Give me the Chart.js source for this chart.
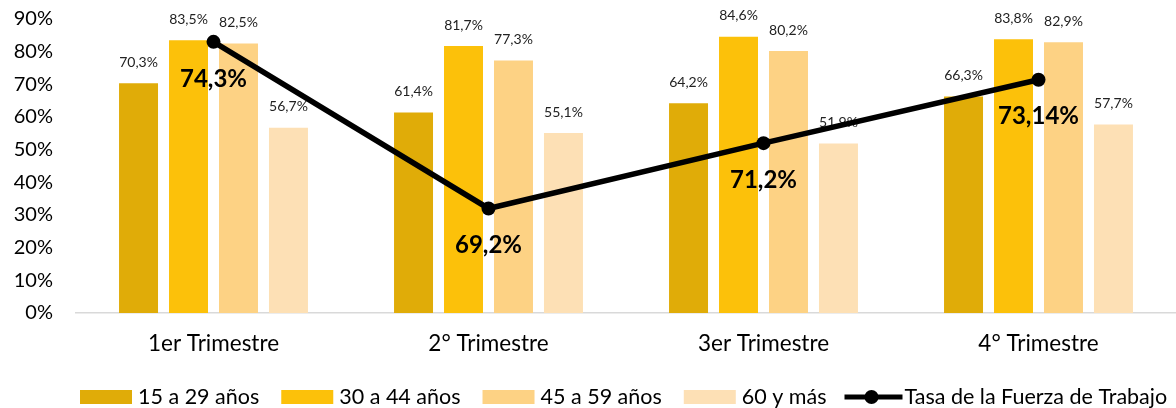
<!DOCTYPE html>
<html>
<head>
<meta charset="utf-8">
<script src="https://cdn.jsdelivr.net/npm/chart.js@4/dist/chart.umd.min.js"></script>
<style>
  html,body{margin:0;padding:0;background:#fff;}
  #wrap{width:1176px;height:408px;position:relative;}
</style>
</head>
<body>
<div id="wrap"><canvas id="c"></canvas></div>
<script>
const categories = ['1er Trimestre', '2° Trimestre', '3er Trimestre', '4° Trimestre'];
const g15a29 = [70.3, 61.4, 64.2, 66.3];
const g30a44 = [83.5, 81.7, 84.6, 83.8];
const g45a59 = [82.5, 77.3, 80.2, 82.9];
const g60mas = [56.7, 55.1, 51.9, 57.7];
const tasaFuerza = [74.3, 69.2, 71.2, 73.14];
const yTicks = [0, 10, 20, 30, 40, 50, 60, 70, 80, 90];

const FONT = 'Lato, "Open Sans", sans-serif';
const fmt = v => String(v).replace('.', ',') + '%';

// bar value labels, drawn per dataset so the line goes over them
const barLabels = {
  id: 'barLabels',
  afterDatasetDraw(chart, args){
    const ds = chart.data.datasets[args.index];
    if(ds.type === 'line') return;
    const ctx = chart.ctx;
    ctx.save();
    ctx.font = '14px ' + FONT;
    ctx.fillStyle = '#222';
    ctx.textAlign = 'center';
    ctx.textBaseline = 'middle';
    args.meta.data.forEach((bar, i) => ctx.fillText(fmt(ds.data[i]), bar.x, bar.y - 21));
    ctx.restore();
  },
  afterDatasetsDraw(chart){
    const ctx = chart.ctx;
    chart.data.datasets.forEach((ds, di) => {
      if(ds.type !== 'line') return;
      const meta = chart.getDatasetMeta(di);
      ctx.save();
      ctx.font = 'bold 24px ' + FONT;
      ctx.fillStyle = '#000';
      ctx.textAlign = 'center';
      ctx.textBaseline = 'middle';
      meta.data.forEach((pt, i) => ctx.fillText(fmt(ds.data[i]), pt.x, pt.y + 37));
      ctx.restore();
    });
  }
};

// legend drawn by hand along the bottom
const bottomLegend = {
  id: 'bottomLegend',
  afterDraw(chart){
    const ctx = chart.ctx;
    const y = 397;
    let x = 80;
    ctx.save();
    ctx.font = '21.5px ' + FONT;
    ctx.textBaseline = 'middle';
    ctx.textAlign = 'left';
    chart.data.datasets.forEach(ds => {
      if(ds.type === 'line'){
        x -= 4;
        ctx.strokeStyle = ds.borderColor;
        ctx.lineWidth = 5;
        ctx.beginPath(); ctx.moveTo(x, y); ctx.lineTo(x + 58, y); ctx.stroke();
        ctx.fillStyle = ds.borderColor;
        ctx.beginPath(); ctx.arc(x + 27, y, 7, 0, Math.PI * 2); ctx.fill();
        x += 60;
      } else {
        ctx.fillStyle = ds.backgroundColor;
        ctx.fillRect(x, y - 7, 52, 14);
        x += 58;
      }
      ctx.fillStyle = '#000';
      ctx.fillText(ds.label, x, y);
      x += ctx.measureText(ds.label).width + 22;
    });
    ctx.restore();
  }
};

new Chart(document.getElementById('c'), {
  data: {
    labels: categories,
    datasets: [
      {type:'bar', label:'15 a 29 años', data:g15a29, backgroundColor:'#E0AC08', order:1},
      {type:'bar', label:'30 a 44 años', data:g30a44, backgroundColor:'#FCC10A', order:1},
      {type:'bar', label:'45 a 59 años', data:g45a59, backgroundColor:'#FDD284', order:1},
      {type:'bar', label:'60 y más', data:g60mas, backgroundColor:'#FDE0B5', order:1},
      {type:'line', label:'Tasa de la Fuerza de Trabajo', data:tasaFuerza, yAxisID:'y1', order:0,
       borderColor:'#000', backgroundColor:'#000', borderWidth:5.5, pointRadius:7, pointBackgroundColor:'#000', pointBorderWidth:0, tension:0}
    ]
  },
  options: {
    responsive: true,
    maintainAspectRatio: false,
    animation: false,
    datasets: { bar: { categoryPercentage: 0.727, barPercentage: 0.78 } },
    layout: { autoPadding: false, padding: { top: 19, left: 0, right: 0, bottom: 0 } },
    plugins: { legend: { display: false }, tooltip: { enabled: false } },
    scales: {
      x: {
        grid: { display: false, drawTicks: false },
        border: { display: true, color: '#d9d9d9', width: 1.5 },
        ticks: { color: '#000', font: { family: FONT, size: 22.5 }, padding: 17 },
        afterFit: s => { s.height = 95; s.paddingLeft = 0; s.paddingRight = 0; }
      },
      y: {
        min: 0, max: 90,
        afterBuildTicks: s => { s.ticks = yTicks.map(v => ({ value: v })); },
        grid: { display: false, drawTicks: false },
        border: { display: false },
        ticks: { color: '#000', font: { family: FONT, size: 20 }, padding: 23, callback: v => v + '%' },
        afterFit: s => { s.width = 76; s.paddingTop = 0; s.paddingBottom = 0; }
      },
      y1: { display: false, min: 66, max: 75 }
    }
  },
  plugins: [barLabels, bottomLegend]
});
</script>
</body>
</html>
